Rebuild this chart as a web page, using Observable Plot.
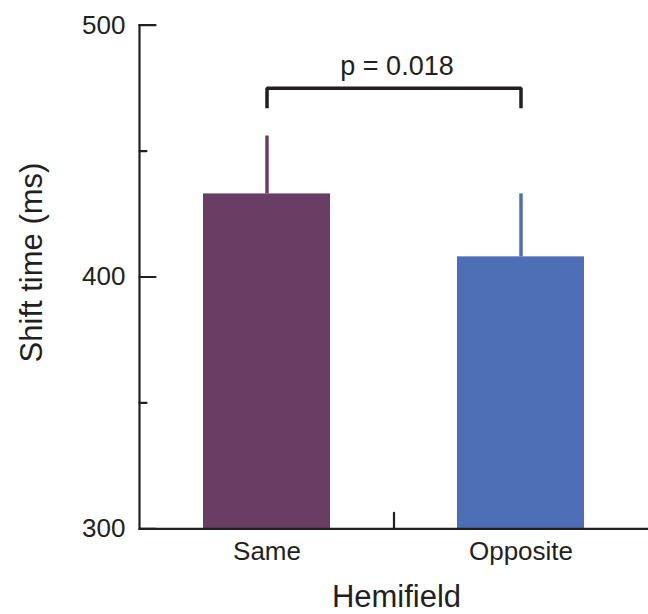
<!DOCTYPE html>
<html>
<head>
<meta charset="utf-8">
<script src="https://cdn.jsdelivr.net/npm/d3@7"></script>
<script src="https://cdn.jsdelivr.net/npm/@observablehq/plot@0.6"></script>
<style>
  html, body { margin: 0; padding: 0; background: #fff; }
  #chart { width: 648px; height: 614px; }
</style>
</head>
<body>
<div id="chart"></div>
<script>
// ---- data ----
const categories = ["Same", "Opposite"];
const means = [433, 408];
const errors = [23, 25];
const barColors = ["#6a3e64", "#4e6fb6"];
const yDomain = [300, 500];
const majorTicks = [300, 400, 500];
const minorTicks = [350, 450];
const yTitle = "Shift time (ms)";
const xTitle = "Hemifield";
const pLabel = "p = 0.018";
const bracketTop = 475;
const bracketLeg = 467;

// ---- build ----
const data = categories.map((c, i) => ({cat: c, mean: means[i], se: errors[i]}));
const bracket = [
  {cat: categories[0], v: bracketLeg},
  {cat: categories[0], v: bracketTop},
  {cat: categories[1], v: bracketTop},
  {cat: categories[1], v: bracketLeg}
];
const ink = "#231f20";
const font = "'Liberation Sans', Arial, Helvetica, sans-serif";
const tickShape = {draw(context, l) { context.moveTo(0, 0); context.lineTo(0, -l); }};

const chart = Plot.plot({
  width: 648,
  height: 614,
  marginLeft: 139,
  marginRight: 0,
  marginTop: 24.7,
  marginBottom: 85.7,
  style: {fontFamily: font, color: ink, background: "#fff"},
  x: {domain: categories, paddingInner: 0.5, paddingOuter: 0.25},
  y: {domain: yDomain},
  color: {domain: categories, range: barColors},
  marks: [
    Plot.barY(data, {x: "cat", y1: yDomain[0], y2: "mean", fill: "cat"}),
    Plot.ruleX(data, {x: "cat", y1: "mean", y2: d => d.mean + d.se, stroke: "cat", strokeWidth: 3.5}),
    Plot.line(bracket, {x: "cat", y: "v", stroke: ink, strokeWidth: 3.5, strokeLinejoin: "miter", strokeLinecap: "butt"}),
    Plot.text([pLabel], {y: () => bracketTop, dy: -13.5, dx: 3, lineAnchor: "bottom", fontSize: 27, fill: ink}),
    Plot.frame({anchor: "left", stroke: ink, strokeWidth: 2.2}),
    Plot.ruleY([yDomain[0]], {stroke: ink, strokeWidth: 2.2}),
    Plot.vector(majorTicks, {y: d => d, frameAnchor: "left", rotate: 90, length: 16, anchor: "start", shape: tickShape, stroke: ink, strokeWidth: 2.2}),
    Plot.vector(minorTicks, {y: d => d, frameAnchor: "left", rotate: 90, length: 7, anchor: "start", shape: tickShape, stroke: ink, strokeWidth: 2.2}),
    Plot.vector([0], {frameAnchor: "bottom", length: 16, anchor: "start", shape: tickShape, stroke: ink, strokeWidth: 2.2}),
    Plot.axisY({ticks: majorTicks, tickSize: 0, tickPadding: 14, fontSize: 26, label: null, fill: ink}),
    Plot.axisX({tickSize: 0, tickPadding: 13, fontSize: 26, label: null, fill: ink}),
    Plot.text([yTitle], {frameAnchor: "left", textAnchor: "middle", rotate: -90, dx: -97.5, dy: -14.5, lineAnchor: "bottom", fontSize: 31, fill: ink}),
    Plot.text([xTitle], {frameAnchor: "bottom", textAnchor: "middle", dx: 2.5, dy: 78, lineAnchor: "bottom", fontSize: 31, fill: ink})
  ]
});
document.getElementById("chart").appendChild(chart);
</script>
</body>
</html>
